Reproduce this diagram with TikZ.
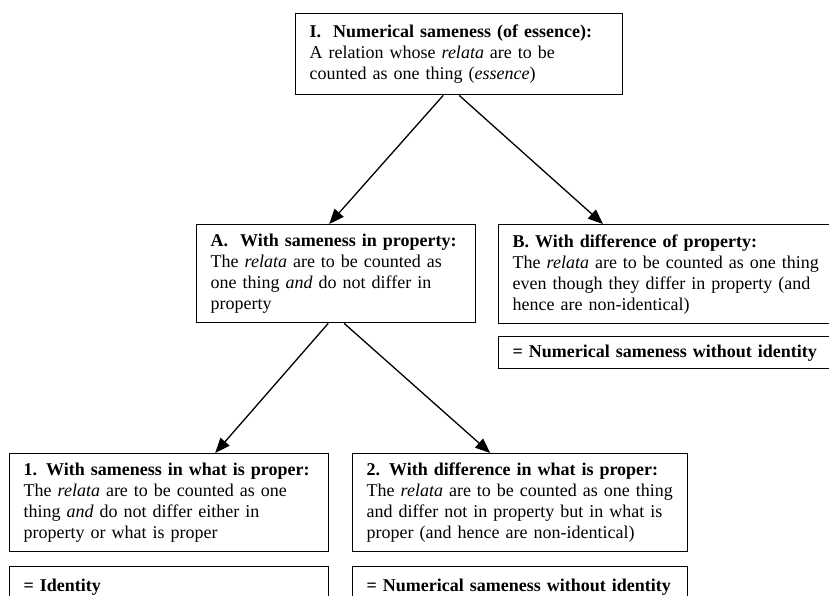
\documentclass[tikz,border=0pt]{standalone}
\usepackage{fontspec}
\setmainfont{Liberation Serif}
\usetikzlibrary{arrows.meta}

\tikzset{
	box/.style={draw, line width=1.4pt, anchor=north west, align=left,
		inner xsep=14pt, inner ysep=0pt, font=\fontsize{18}{21}\selectfont},
	arr/.style={line width=1.3pt, -{Triangle[length=15pt,width=12pt]}},
}

\begin{document}
\begin{tikzpicture}[x=1pt,y=-1pt]
			\useasboundingbox (0,0) rectangle (829,595);
			\clip (0,0) rectangle (829,595);
			\fill[white] (0,0) rectangle (829,595);

			% Numerical sameness
			\node[box, text width=299pt, minimum height=81pt] (ess) at (295,13)
				{\textbf{I.~~Numerical sameness (of essence):}\\
				A relation whose \textit{relata} are to be\\
				counted as one thing (\textit{essence})};

			% Second level
			\node[box, text width=251pt, minimum height=98pt] (secA) at (196,224)
				{\textbf{A.~~With sameness in property:}\\
				The \textit{relata} are to be counted as\\
				one thing \textit{and} do not differ in\\
				property};
			\node[box, text width=312pt, minimum height=99pt] (secB) at (498,224)
				{\textbf{B. With difference of property:}\\
				The \textit{relata} are to be counted as one thing\\
				even though they differ in property (and\\
				hence are non-identical)};
			\node[box, text width=312pt, minimum height=32pt] (eqB) at (498,336)
				{\textbf{= Numerical sameness without identity}};

			% Third level
			\node[box, text width=291pt, minimum height=98pt] (one) at (9,453)
				{\textbf{1. With sameness in what is proper:}\\
				The \textit{relata} are to be counted as one\\
				thing \textit{and} do not differ either in\\
				property or what is proper};
			\node[box, text width=307pt, minimum height=98pt] (two) at (352,453)
				{\textbf{2. With difference in what is proper:}\\
				The \textit{relata} are to be counted as one thing\\
				and differ not in property but in what is\\
				proper (and hence are non-identical)};
			\node[box, text width=291pt, minimum height=40pt] (eqone) at (9,566)
				{\textbf{= Identity}};
			\node[box, text width=307pt, minimum height=40pt] (eqtwo) at (352,566)
				{\textbf{= Numerical sameness without identity}};

			% Arrows
			\draw[arr] ([xshift=-16pt]ess.south) -- ([xshift=-7pt]secA.north);
			\draw[arr] (ess.south) -- ([xshift=105pt]secB.north west);
			\draw[arr] ([xshift=-8pt]secA.south) -- ([xshift=46pt]one.north);
			\draw[arr] ([xshift=8pt]secA.south) -- ([xshift=-30pt]two.north);
\end{tikzpicture}
\end{document}
